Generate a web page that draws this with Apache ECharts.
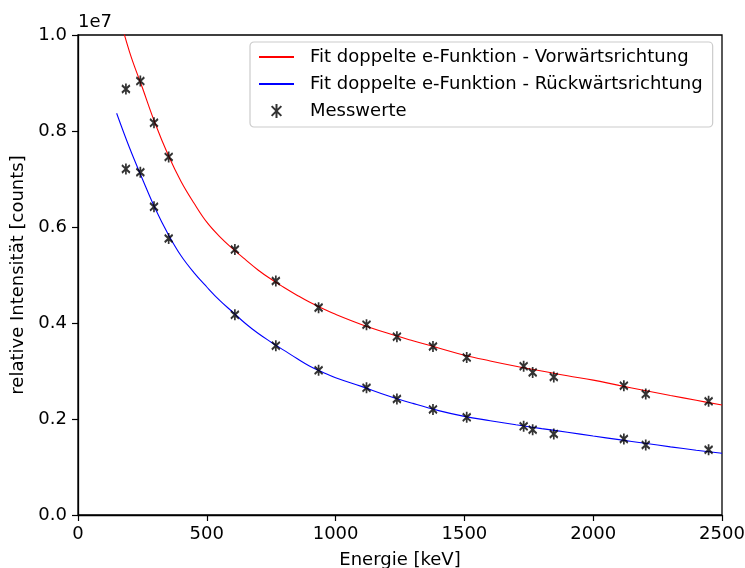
<!DOCTYPE html>
<html>
<head>
<meta charset="utf-8">
<script src="https://cdn.jsdelivr.net/npm/echarts@6/dist/echarts.min.js"></script>
<style>html,body{margin:0;padding:0;background:#fff}#c{width:745px;height:568px}</style>
</head>
<body>
<div id="c"></div>
<script>
// Measured energies (keV)
const energies = [186, 242, 295, 352, 609, 768, 934, 1120, 1238, 1378, 1509, 1730, 1765, 1847, 2119, 2204, 2448];
// Measured values (counts), forward direction
const forwardValues = [8.875e6, 9.04e6, 8.17e6, 7.46e6, 5.53e6, 4.875e6, 4.32e6, 3.965e6, 3.715e6, 3.51e6, 3.28e6, 3.10e6, 2.97e6, 2.875e6, 2.694e6, 2.52e6, 2.368e6];
// Measured values (counts), backward direction
const backwardValues = [7.21e6, 7.14e6, 6.42e6, 5.76e6, 4.17e6, 3.527e6, 3.014e6, 2.65e6, 2.417e6, 2.20e6, 2.035e6, 1.847e6, 1.778e6, 1.688e6, 1.583e6, 1.458e6, 1.36e6];

// Fit curve samples
const fitEnergies = [150, 200, 250, 300, 350, 400, 450, 500, 550, 600, 650, 700, 750, 800, 850, 900, 950, 1000, 1100, 1200, 1300, 1400, 1500, 1600, 1700, 1800, 1900, 2000, 2100, 2200, 2300, 2400, 2500];
const fitForward = [1.06e7, 9.65e6, 8.9e6, 8.15e6, 7.5e6, 6.95e6, 6.5e6, 6.1e6, 5.8e6, 5.55e6, 5.32e6, 5.1e6, 4.91e6, 4.74e6, 4.58e6, 4.43e6, 4.30e6, 4.18e6, 3.97e6, 3.79e6, 3.63e6, 3.48e6, 3.33e6, 3.21e6, 3.10e6, 3.00e6, 2.90e6, 2.81e6, 2.70e6, 2.595e6, 2.49e6, 2.39e6, 2.29e6];
const fitBackward = [8.37e6, 7.65e6, 7.0e6, 6.38e6, 5.85e6, 5.4e6, 5.05e6, 4.75e6, 4.47e6, 4.23e6, 3.99e6, 3.78e6, 3.60e6, 3.43e6, 3.26e6, 3.10e6, 2.975e6, 2.86e6, 2.68e6, 2.49e6, 2.325e6, 2.175e6, 2.055e6, 1.965e6, 1.88e6, 1.80e6, 1.725e6, 1.645e6, 1.57e6, 1.495e6, 1.42e6, 1.35e6, 1.285e6];

const xTicks = [0, 500, 1000, 1500, 2000, 2500];
const yTickLabels = ['0.0', '0.2', '0.4', '0.6', '0.8', '1.0'];

const names = ['Fit doppelte e-Funktion - Vorwärtsrichtung', 'Fit doppelte e-Funktion - Rückwärtsrichtung', 'Messwerte'];
const FONT = 'DejaVu Sans';
const FS = 18;

const zip = (a, b) => a.map((v, i) => [v, b[i]]);
const markerPath = 'path://M0,2L9,11M9,2L0,11M4.5,0L4.5,13';

const chart = echarts.init(document.getElementById('c'), null, {renderer: 'canvas'});
chart.setOption({
  animation: false,
  backgroundColor: '#fff',
  textStyle: {fontFamily: FONT},
  grid: {left: 78, right: 23, top: 35, bottom: 53, outerBoundsMode: 'none', containLabel: false,
    show: true, borderColor: '#000', borderWidth: 1.3, backgroundColor: 'transparent'},
  xAxis: {
    type: 'value', min: xTicks[0], max: xTicks[xTicks.length - 1], interval: 500,
    name: 'Energie [keV]', nameLocation: 'middle', nameGap: 36,
    nameTextStyle: {fontFamily: FONT, fontSize: FS, color: '#000'},
    axisLine: {show: true, onZero: false, lineStyle: {color: '#000', width: 1.3}},
    axisTick: {show: true, inside: false, length: 6, lineStyle: {color: '#000', width: 1.2}},
    axisLabel: {fontFamily: FONT, fontSize: FS, color: '#000', margin: 10, formatter: v => String(v)},
    splitLine: {show: false}
  },
  yAxis: {
    type: 'value', min: 0, max: 1e7, interval: 2e6,
    name: 'relative Intensität [counts]', nameLocation: 'middle', nameGap: 50, nameRotate: 90,
    nameTextStyle: {fontFamily: FONT, fontSize: FS, color: '#000'},
    axisLine: {show: true, onZero: false, lineStyle: {color: '#000', width: 1.3}},
    axisTick: {show: true, inside: false, length: 6, lineStyle: {color: '#000', width: 1.2}},
    axisLabel: {fontFamily: FONT, fontSize: FS, color: '#000', margin: 11,
      formatter: v => yTickLabels[Math.round(v / 2e6)]},
    splitLine: {show: false}
  },
  legend: {
    orient: 'vertical', left: 250, top: 42,
    itemWidth: 35, itemHeight: 14, itemGap: 9,
    padding: [6, 10, 7, 8],
    borderColor: '#cccccc', borderWidth: 1.2, borderRadius: 4,
    backgroundColor: 'rgba(255,255,255,0.8)',
    textStyle: {fontFamily: FONT, fontSize: FS, color: '#000', padding: [0, 0, 0, 11]},
    data: [
      {name: names[0], itemStyle: {opacity: 0}},
      {name: names[1], itemStyle: {opacity: 0}},
      {name: names[2]}
    ]
  },
  graphic: [{
    type: 'text', left: 78, top: 13,
    style: {text: '1e7', font: FS + 'px "' + FONT + '"', fill: '#000'}
  }],
  series: [
    {name: names[0], type: 'line', data: zip(fitEnergies, fitForward), symbol: 'none', smooth: 0.4,
      lineStyle: {color: '#ff0000', width: 1.1}, itemStyle: {color: '#ff0000'}, clip: true, z: 2},
    {name: names[1], type: 'line', data: zip(fitEnergies, fitBackward), symbol: 'none', smooth: 0.4,
      lineStyle: {color: '#0000ff', width: 1.1}, itemStyle: {color: '#0000ff'}, clip: true, z: 2},
    {name: names[2], type: 'scatter', data: zip(energies, forwardValues).concat(zip(energies, backwardValues)),
      symbol: markerPath, symbolSize: [8, 11],
      itemStyle: {color: 'rgba(0,0,0,0)', borderColor: '#000', borderWidth: 2}, z: 3}
  ]
});
</script>
</body>
</html>
